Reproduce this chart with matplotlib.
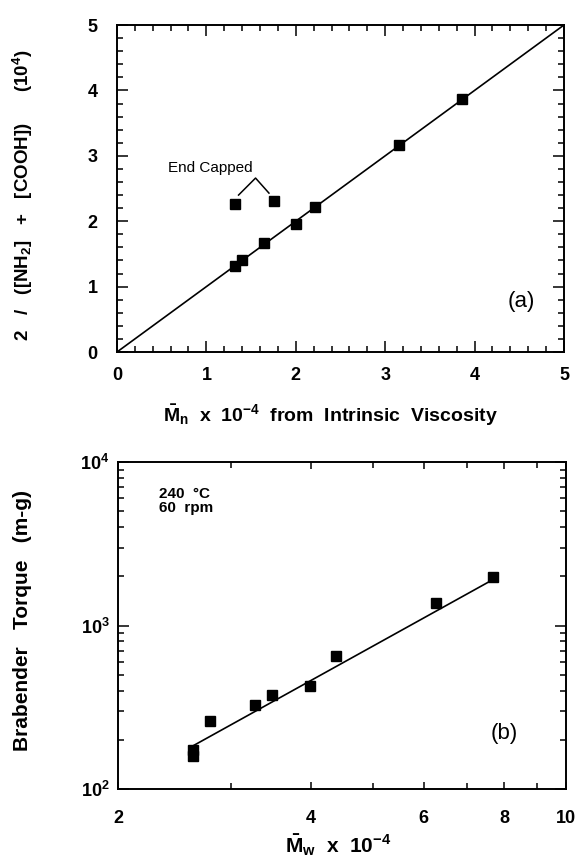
import numpy as np
import matplotlib
matplotlib.use('Agg')
import matplotlib.pyplot as plt
from matplotlib.ticker import MultipleLocator, FixedLocator, NullFormatter, FixedFormatter

plt.rcParams['font.family'] = ['Liberation Sans', 'DejaVu Sans']
plt.rcParams['mathtext.fontset'] = 'custom'
plt.rcParams['mathtext.rm'] = 'Liberation Sans:bold'
plt.rcParams['mathtext.it'] = 'Liberation Sans:bold'
plt.rcParams['mathtext.bf'] = 'Liberation Sans:bold'

# (a) end groups vs Mn from intrinsic viscosity
mn_x = [1.32, 1.40, 1.65, 2.00, 2.21, 3.15, 3.86]
mn_y = [1.32, 1.41, 1.67, 1.96, 2.21, 3.17, 3.87]
capped_x = [1.32, 1.76]
capped_y = [2.26, 2.31]
line_a_x = [0, 5]
line_a_y = [0, 5]

# (b) Brabender torque vs Mw
mw_x = [2.62, 2.62, 2.78, 3.27, 3.48, 3.99, 4.38, 6.26, 7.68]
torque = [160, 174, 262, 326, 378, 428, 653, 1374, 1972]
fit_x = [2.62, 7.68]
fit_y = [184, 1905]

xticks_b = [2, 4, 6, 8, 10]
xticks_b_minor = [3, 5, 7, 9]

fig = plt.figure(figsize=(5.82, 8.63), dpi=100)
ax1 = fig.add_axes([0.201, 0.5921, 0.768, 0.3789])
ax2 = fig.add_axes([0.2027, 0.0857, 0.770, 0.3789])

sq = dict(marker='s', ms=7.5, color='black', ls='none', zorder=3)

ax1.plot(line_a_x, line_a_y, color='black', lw=1.2)
ax1.plot(mn_x, mn_y, **sq)
ax1.plot(capped_x, capped_y, **sq)
ax1.plot([1.36, 1.55, 1.70], [2.40, 2.66, 2.43], color='black', lw=1.1)
ax1.text(1.04, 2.71, 'End Capped', ha='center', va='bottom', fontsize=11)
ax1.text(4.52, 0.78, '(a)', ha='center', va='center', fontsize=16)
ax1.set_xlim(0, 5)
ax1.set_ylim(0, 5)
ax1.xaxis.set_major_locator(MultipleLocator(1))
ax1.xaxis.set_minor_locator(MultipleLocator(0.2))
ax1.yaxis.set_major_locator(MultipleLocator(1))
ax1.yaxis.set_minor_locator(MultipleLocator(0.2))
ax1.set_xlabel(r'$\bar{\mathrm{M}}_\mathrm{n}$  x  10$^{-4}$  from  Intrinsic  Viscosity',
               fontsize=14, fontweight='bold', va='center')
ax1.xaxis.set_label_coords(0.477, -0.193)
ax1.set_ylabel(r'2   /   ([NH$_2$]   +   [COOH])      (10$^4$)',
               fontsize=13.5, fontweight='bold', va='center')
ax1.yaxis.set_label_coords(-0.210, 0.48)

ax2.plot(fit_x, fit_y, color='black', lw=1.2)
ax2.plot(mw_x, torque, **sq)
ax2.set_xscale('log')
ax2.set_yscale('log')
ax2.set_xlim(2, 10)
ax2.set_ylim(100, 10000)
ax2.xaxis.set_major_locator(FixedLocator(xticks_b))
ax2.xaxis.set_major_formatter(FixedFormatter([str(v) for v in xticks_b]))
ax2.xaxis.set_minor_locator(FixedLocator(xticks_b_minor))
ax2.xaxis.set_minor_formatter(NullFormatter())
ax2.text(2.32, 5800, '240  °C\n60  rpm', ha='left', va='center', fontsize=11,
         fontweight='bold', linespacing=1.0)
ax2.text(8.0, 220, '(b)', ha='center', va='center', fontsize=16)
ax2.set_xlabel(r'$\bar{\mathrm{M}}_\mathrm{w}$  x  10$^{-4}$', fontsize=15,
               fontweight='bold', va='center')
ax2.xaxis.set_label_coords(0.491, -0.170)
ax2.set_ylabel('Brabender   Torque   (m-g)', fontsize=15, fontweight='bold', va='center')
ax2.yaxis.set_label_coords(-0.214, 0.514)

for ax in (ax1, ax2):
    for s in ax.spines.values():
        s.set_linewidth(1.4)
    ax.tick_params(which='both', direction='in', top=True, right=True, width=1.1)
    ax.tick_params(which='major', length=8, labelsize=13)
    ax.tick_params(which='minor', length=4)
    for lab in ax.get_xticklabels() + ax.get_yticklabels():
        lab.set_fontweight('bold')

ax1.tick_params(axis='x', which='major', pad=11)
ax1.tick_params(axis='y', which='major', pad=14)
ax2.tick_params(axis='x', which='major', length=5, pad=15)
ax2.tick_params(axis='y', which='major', pad=6)

fig.savefig('out.png', dpi=100)
